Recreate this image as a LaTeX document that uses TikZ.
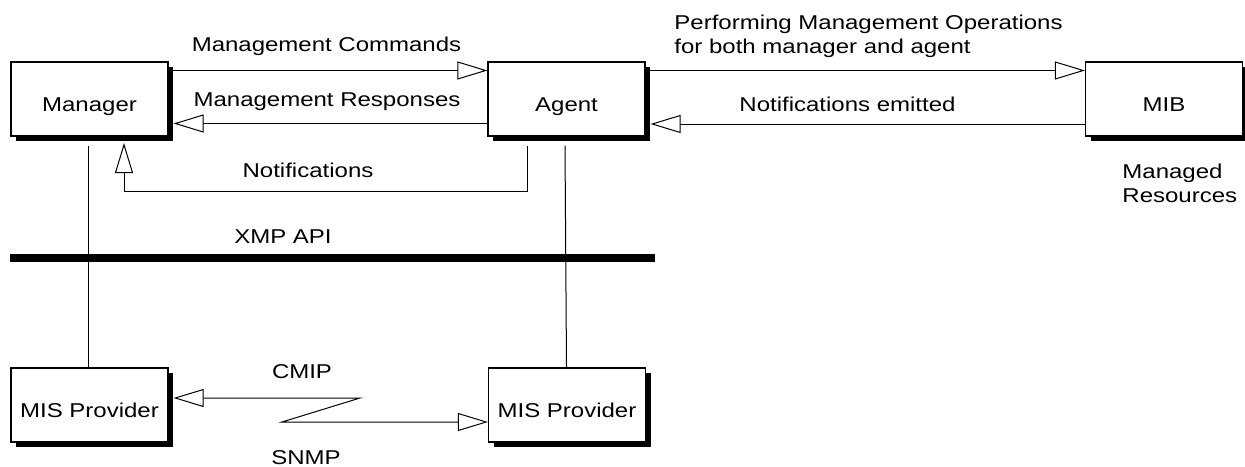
\documentclass[tikz,border=0pt]{standalone}
\usepackage{fontspec}
\setsansfont{Liberation Sans}[FakeStretch=1.2]
\usetikzlibrary{arrows.meta, shadows}

\begin{document}
\begin{tikzpicture}[
    x=0.5pt, y=-0.5pt,
    >={Triangle[open, length=15pt, width=9pt]},
    font=\sffamily\fontsize{10}{12}\selectfont,
    mgmtbox/.style={rectangle, draw=black, fill=white, line width=0.6pt, minimum width=78.5pt, minimum height=37pt, text height=12pt, text depth=0pt, drop shadow={shadow xshift=2.5pt, shadow yshift=-2.5pt, fill=black, opacity=1}},
    lbl/.style={inner sep=0pt, anchor=base},
    plain/.style={draw=black, line width=0.5pt},
    line/.style={draw=black, line width=0.5pt, ->},
    biLine/.style={draw=black, line width=0.5pt, <->},
    apibar/.style={draw=black, line width=3.8pt}
]
    \useasboundingbox (0,0) rectangle (1245,466);

    % Boxes
    \node [mgmtbox] (manager) at (89.5, 99) {Manager};
    \node [mgmtbox] (agent) at (566.5, 99) {Agent};
    \node [mgmtbox] (mib) at (1164, 99) {MIB};
    \node [mgmtbox] (provL) at (89.5, 405) {MIS Provider};
    \node [mgmtbox] (provR) at (567, 405) {MIS Provider};

    % Manager <-> Agent
    \draw [line] (manager.east |- 0,70.5) -- (agent.west |- 0,70.5);
    \draw [line] (agent.west |- 0,123.5) -- ([xshift=2.5pt]manager.east |- 0,123.5);
    \node [lbl] (cmdLbl) at (326.5, 51) {Management Commands};
    \node [lbl] (respLbl) at (327, 106) {Management Responses};

    % Agent <-> MIB
    \draw [line] (agent.east |- 0,70.5) -- (mib.west |- 0,70.5);
    \draw [line] (mib.west |- 0,124) -- ([xshift=2.5pt]agent.east |- 0,124);
    \node [lbl, anchor=base west, align=left] (perfLbl) at (674, 53.5) {Performing Management Operations\\for both manager and agent};
    \node [lbl] (emitLbl) at (847.5, 111) {Notifications emitted};
    \node [lbl, anchor=base west, align=left] (resLbl) at (1122, 202) {Managed\\Resources};

    % Notifications back to the manager
    \coordinate (notifStart) at ([xshift=-19.75pt, yshift=-4.5pt]agent.south);
    \coordinate (notifEnd) at ([xshift=17.25pt, yshift=-3.2pt]manager.south);
    \draw [line] (notifStart) -- ++(0,46) -| (notifEnd);
    \node [lbl] (notifLbl) at (308, 177) {Notifications};

    % XMP API
    \draw [apibar] (10,258) -- (655,258);
    \node [lbl] (apiLbl) at (283, 243) {XMP API};
    \draw [plain] ([xshift=-0.75pt, yshift=-4.5pt]manager.south) -- ([xshift=-0.75pt]provL.north);
    \draw [plain] ([xshift=-0.75pt, yshift=-4.5pt]agent.south) -- (provR.north -| agent.south);

    % Providers
    \draw [biLine] ([xshift=2.5pt]provL.east |- 0,398) -- (360,398) -- (282,422) -- (provR.west |- 0,422);
    \node [lbl] (cmipLbl) at (302, 378) {CMIP};
    \node [lbl] (snmpLbl) at (306, 464) {SNMP};

\end{tikzpicture}
\end{document}
